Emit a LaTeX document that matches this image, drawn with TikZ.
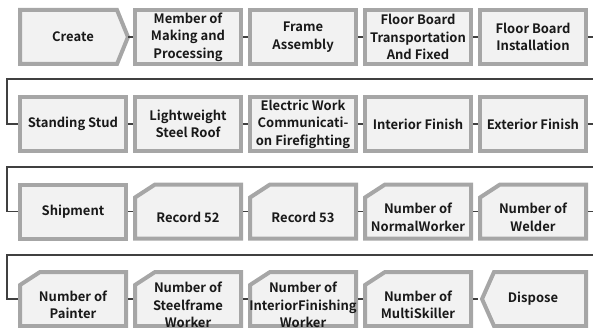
\documentclass[tikz,border=0pt]{standalone}
\usepackage{fontspec}
\setmainfont{Noto Sans CJK KR}[BoldFont={Noto Sans CJK KR Bold}]
\usetikzlibrary{calc}
\definecolor{boxfill}{HTML}{F2F2F2}
\definecolor{boxedge}{HTML}{A6A6A6}
\definecolor{linec}{HTML}{404040}
\newcommand\plainshape[1]{\draw[outl] ($(#1)+(-53,-27)$) rectangle ($(#1)+(53,27)$);}
\newcommand\cutshape[1]{\draw[outl] ($(#1)+(-53,-27)$) -- ($(#1)+(-53,14)$) -- ($(#1)+(-33,27)$) -- ($(#1)+(53,27)$) -- ($(#1)+(53,-27)$) -- cycle;}
\begin{document}
\begin{tikzpicture}[x=1pt,y=1pt,
  outl/.style={draw=boxedge, fill=boxfill, line width=4pt, line join=miter},
  box/.style={draw=none, minimum width=110pt, minimum height=58pt, inner sep=0pt, outer sep=0pt,
    align=center, font=\fontsize{13}{17.5}\selectfont\bfseries, text=black!90},
  lbl/.style={inner sep=0pt, outer sep=0pt, align=center, font=\fontsize{13}{17.5}\selectfont\bfseries, text=black!90},
  conn/.style={draw=linec, line width=1.3pt}]
\useasboundingbox (0,0) rectangle (593,327);
\clip (0,0) rectangle (593,327);
% centers
\coordinate (c1) at (73,290);  \coordinate (c2) at (188,290); \coordinate (c3) at (303,290);
\coordinate (c4) at (418,290); \coordinate (c5) at (533,290);
\coordinate (c6) at (73,203);  \coordinate (c7) at (188,203); \coordinate (c8) at (303,203);
\coordinate (c9) at (418,203); \coordinate (c10) at (533,203);
\coordinate (c11) at (73,115.5);  \coordinate (c12) at (188,115.5); \coordinate (c13) at (303,115.5);
\coordinate (c14) at (418,115.5); \coordinate (c15) at (533,115.5);
\coordinate (c16) at (73,28);  \coordinate (c17) at (188,28); \coordinate (c18) at (303,28);
\coordinate (c19) at (418,28); \coordinate (c20) at (533,28);
\coordinate (w1) at (7,248); \coordinate (w2) at (7,160); \coordinate (w3) at (7,72);
% outlines
\draw[outl] ($(c1)+(-53,-27)$) -- ($(c1)+(-53,27)$) -- ($(c1)+(44,27)$) -- ($(c1)+(55,0)$) -- ($(c1)+(44,-27)$) -- cycle;
\plainshape{c2}\plainshape{c3}\plainshape{c4}\plainshape{c5}
\plainshape{c6}\plainshape{c7}\plainshape{c8}\plainshape{c9}\plainshape{c10}
\plainshape{c11}\cutshape{c12}\cutshape{c13}\cutshape{c14}\cutshape{c15}
\cutshape{c16}\cutshape{c17}\cutshape{c18}\cutshape{c19}
\draw[outl] ($(c20)+(-51,0)$) -- ($(c20)+(-39,27)$) -- ($(c20)+(53,27)$) -- ($(c20)+(53,-27)$) -- ($(c20)+(-39,-27)$) -- cycle;
% nodes
\node[box] (b1) at (c1) {Create};
\node[box] (b2) at (c2) {Member of\\Making and\\Processing};
\node[box] (b3) at (c3) {Frame\\Assembly};
\node[box] (b4) at (c4) {Floor Board\\Transportation\\And Fixed};
\node[box] (b5) at (c5) {Floor Board\\Installation};
\node[box] (b6) at (c6) {Standing Stud};
\node[box] (b7) at (c7) {Lightweight\\Steel Roof};
\node[box] (b8) at (c8) {Electric Work\\Communicati-\\on Firefighting};
\node[box] (b9) at (c9) {Interior Finish};
\node[box] (b10) at (c10) {Exterior Finish};
\node[box] (b11) at (c11) {Shipment};
\node[box] (b12) at (c12) {};
\node[box] (b13) at (c13) {};
\node[box] (b14) at (c14) {};
\node[box] (b15) at (c15) {};
\node[box] (b16) at (c16) {};
\node[box] (b17) at (c17) {};
\node[box] (b18) at (c18) {};
\node[box] (b19) at (c19) {};
\node[box] (b20) at (c20) {Dispose};
\node[lbl] (t12) at ($(c12)+(0,-6)$) {Record 52};
\node[lbl] (t13) at ($(c13)+(0,-6)$) {Record 53};
\node[lbl] (t14) at ($(c14)+(0,-6)$) {Number of\\NormalWorker};
\node[lbl] (t15) at ($(c15)+(0,-6)$) {Number of\\Welder};
\node[lbl] (t16) at ($(c16)+(0,-6)$) {Number of\\Painter};
\node[lbl] (t17) at ($(c17)+(0,-6)$) {Number of\\Steelframe\\Worker};
\node[lbl] (t18) at ($(c18)+(0,-6)$) {Number of\\InteriorFinishing\\Worker};
\node[lbl] (t19) at ($(c19)+(0,-6)$) {Number of\\MultiSkiller};
% connectors
\foreach \a/\b in {1/2,2/3,3/4,4/5,6/7,7/8,8/9,9/10,11/12,12/13,13/14,14/15,16/17,17/18,18/19,19/20}
  \draw[conn] (b\a.east) -- (b\b.west);
\draw[conn] (b5.east) -- ++(14,0) |- (w1) |- (b6.west);
\draw[conn] (b10.east) -- ++(14,0) |- (w2) |- (b11.west);
\draw[conn] (b15.east) -- ++(14,0) |- (w3) |- (b16.west);
\end{tikzpicture}
\end{document}
